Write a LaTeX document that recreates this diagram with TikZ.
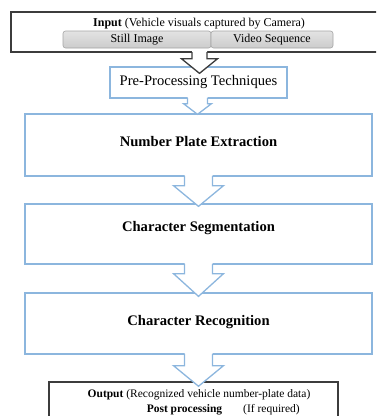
\documentclass[tikz,border=0pt]{standalone}
\usepackage{fontspec}
\setmainfont{Liberation Serif}
\usetikzlibrary{calc}
\definecolor{boxblue}{RGB}{140,182,222}
\definecolor{darkline}{RGB}{60,60,60}
\definecolor{btnborder}{RGB}{165,165,165}
\newcommand\harrow[8]{%
  % #1 colour, #2 src, #3 dst, #4 half shaft, #5 half wing, #6 neck, #7 tip overshoot, #8 axis x
  \fill[white] ($(#8 |- #2.south)+(-#4,-2)$) -- ($(#8 |- #2.south)+(-#4,#6)$)
     -- ($(#8 |- #2.south)+(-#5,#6)$) -- ($(#8 |- #3.north)+(0,#7)$)
     -- ($(#8 |- #2.south)+(#5,#6)$) -- ($(#8 |- #2.south)+(#4,#6)$)
     -- ($(#8 |- #2.south)+(#4,-2)$) -- cycle;
  \draw[#1,line width=1.3pt,line join=miter] ($(#8 |- #2.south)+(-#4,-0.7)$) -- ($(#8 |- #2.south)+(-#4,#6)$)
     -- ($(#8 |- #2.south)+(-#5,#6)$) -- ($(#8 |- #3.north)+(0,#7)$)
     -- ($(#8 |- #2.south)+(#5,#6)$) -- ($(#8 |- #2.south)+(#4,#6)$)
     -- ($(#8 |- #2.south)+(#4,-0.7)$);}
\begin{document}
\begin{tikzpicture}[x=1pt,y=-1pt,
  bluebox/.style={draw=boxblue,line width=1.3pt,fill=white,minimum width=#1,inner sep=0pt},
  darkbox/.style={draw=darkline,line width=1.5pt,fill=white,inner sep=0pt},
  btn/.style={draw=btnborder,line width=0.6pt,rounded corners=2.5pt,top color=gray!22,bottom color=gray!40,
     minimum height=17pt,inner sep=0pt,font=\fontsize{12}{14}\selectfont},
  bigtext/.style={font=\bfseries\fontsize{14.6}{16}\selectfont,inner sep=0pt},
  smalltext/.style={font=\fontsize{11.8}{13}\selectfont,inner sep=0pt}]
\useasboundingbox (0,0) rectangle (376,416);
\clip (0,0) rectangle (376,416);
\coordinate (axis) at (198.5,0);
\coordinate (axisA) at (199.5,0);
\coordinate (axisB) at (197.5,0);
% input
\node[darkbox,minimum width=379pt,minimum height=40pt] (inp) at (200.5,32) {};
\node[smalltext,font=\fontsize{12}{14}\selectfont] (inpt) at (199,24) {\textbf{Input} (Vehicle visuals captured by Camera)};
\node[btn,minimum width=148pt] (still) at (137,39.5) {Still Image};
\node[btn,minimum width=122pt] (video) at (272,39.5) {Video Sequence};
% blue boxes
\node[bluebox=177pt,minimum height=31pt,font=\fontsize{14.6}{16}\selectfont] (pre) at (198.5,82.5) {Pre-Processing Techniques};
\node[bluebox=347pt,minimum height=62pt] (npe) at (198.5,145) {};
\node[bigtext] (npet) at (198.5,142) {Number Plate Extraction};
\node[bluebox=347pt,minimum height=60pt] (cs) at (198.5,234) {};
\node[bigtext] (cst) at (198.5,228.5) {Character Segmentation};
\node[bluebox=347pt,minimum height=61pt] (cr) at (198.5,323.5) {};
\node[bigtext] (crt) at (198.5,322.5) {Character Recognition};
% output
\node[darkbox,minimum width=289pt,minimum height=50pt] (out) at (193.5,407) {};
\node[smalltext,font=\fontsize{11.5}{13}\selectfont] (outt) at (199,395) {\textbf{Output} (Recognized vehicle number-plate data)};
\node[smalltext,font=\bfseries\fontsize{11.5}{13}\selectfont] (postt) at (184.5,410) {Post processing};
\node[smalltext,font=\fontsize{11.5}{13}\selectfont] (ifreq) at (271.5,410) {(If required)};
% arrows
\harrow{darkline}{inp}{pre}{7.5}{18}{6}{7}{axisA}
\harrow{boxblue}{pre}{npe}{10}{14}{5}{1}{axisB}
\harrow{boxblue}{npe}{cs}{14}{25}{9}{3}{axis}
\harrow{boxblue}{cs}{cr}{14}{25}{9}{4}{axis}
\harrow{boxblue}{cr}{out}{14}{25}{11}{5}{axis}
\end{tikzpicture}
\end{document}
